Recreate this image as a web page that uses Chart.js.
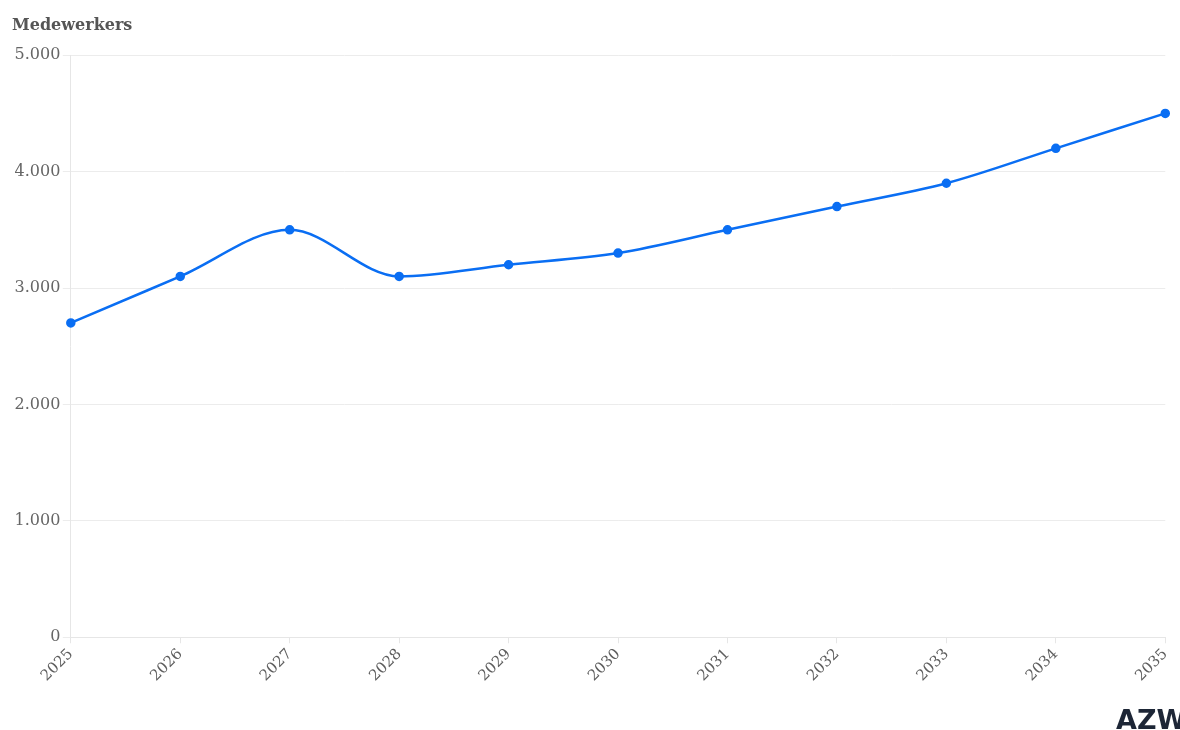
<!DOCTYPE html>
<html>
<head>
<meta charset="utf-8">
<script src="https://cdn.jsdelivr.net/npm/chart.js@4/dist/chart.umd.min.js"></script>
<style>
  body { margin: 0; background: #fff; }
  #wrap { width: 1180px; height: 730px; }
</style>
</head>
<body>
<div id="wrap"><canvas id="myChart" width="1180" height="730"></canvas></div>
<script>
// years and number of employees
var years = ['2025', '2026', '2027', '2028', '2029', '2030', '2031', '2032', '2033', '2034', '2035'];
var medewerkers = [2700, 3100, 3500, 3100, 3200, 3300, 3500, 3700, 3900, 4200, 4500];
var yTicks = [0, 1000, 2000, 3000, 4000, 5000];

function fmt(n) {
  return String(n).replace(/\B(?=(\d{3})+(?!\d))/g, '.');
}

// little AZW mark in the bottom right corner
var logo = {
  id: 'logo',
  afterDraw: function(chart) {
    var ctx = chart.ctx;
    ctx.save();
    ctx.fillStyle = '#1d2636';
    ctx.font = 'bold 27px "DejaVu Sans", sans-serif';
    ctx.textAlign = 'left';
    ctx.textBaseline = 'alphabetic';
    ctx.fillText('AZW', 1116, 729);
    ctx.restore();
  }
};

var ctx = document.getElementById('myChart').getContext('2d');
var chart = new Chart(ctx, {
  type: 'line',
  data: {
    labels: years,
    datasets: [{
      label: 'Medewerkers',
      data: medewerkers,
      borderColor: '#0a6ef3',
      backgroundColor: '#0a6ef3',
      borderWidth: 2.5,
      pointRadius: 3.5,
      pointHoverRadius: 5,
      cubicInterpolationMode: 'monotone'
    }]
  },
  options: {
    responsive: false,
    animation: false,
    layout: { padding: { top: 0, right: 13, bottom: 43, left: 12 } },
    plugins: {
      legend: { display: false },
      tooltip: { enabled: false },
      title: {
        display: true,
        text: 'Medewerkers',
        align: 'start',
        color: '#555',
        font: { family: '"DejaVu Serif", serif', size: 16, weight: 'bold' },
        padding: { top: 16, bottom: 20 }
      }
    },
    scales: {
      x: {
        offset: false,
        grid: { display: true, drawOnChartArea: false, drawTicks: true, tickLength: 6, color: '#e6e6e6' },
        border: { color: '#e6e6e6' },
        ticks: {
          color: '#5e5e5e',
          minRotation: 45,
          maxRotation: 45,
          padding: 2,
          font: { family: '"DejaVu Serif", serif', size: 15 }
        }
      },
      y: {
        min: 0,
        max: 5000,
        afterBuildTicks: function(axis) {
          axis.ticks = yTicks.map(function(v) { return { value: v }; });
        },
        grid: { color: '#ececec', tickLength: 8 },
        border: { color: '#e6e6e6' },
        ticks: {
          color: '#666',
          padding: 2.5,
          font: { family: '"DejaVu Serif", serif', size: 16 },
          callback: function(v) { return fmt(v); }
        }
      }
    }
  },
  plugins: [logo]
});
</script>
</body>
</html>
